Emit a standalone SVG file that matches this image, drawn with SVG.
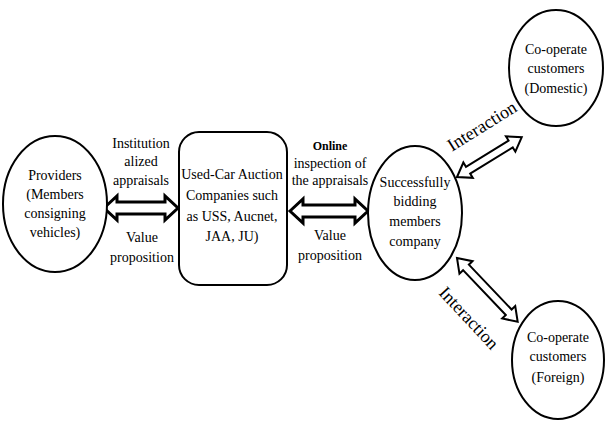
<svg xmlns="http://www.w3.org/2000/svg" width="605" height="421" viewBox="0 0 605 421">
<style>
.n{fill:#fff;stroke:#000;stroke-width:2}
.t{font-family:"Liberation Serif","Times New Roman",serif;font-size:14px;fill:#000;text-anchor:middle}
.a{fill:#fff;stroke:#000;stroke-width:3;stroke-linejoin:miter}
.d{fill:#fff;stroke:#000;stroke-width:2}
.b{font-weight:bold;font-size:12px}
.i{font-size:18px}
</style>
<rect width="605" height="421" fill="#fff"/>
<g id="connectors">
<polygon class="a" points="104,208 117,196 117,202 165,202 165,196 178,208 165,220 165,214 117,214 117,220"/>
<polygon class="a" points="290,211 303,199 303,205 355,205 355,199 368,211 355,223 355,217 303,217 303,223"/>
<polygon class="d" transform="translate(457,177) rotate(-31.6)" points="0,0 13,-9 13,-4 63,-4 63,-9 76,0 63,9 63,4 13,4 13,9"/>
<polygon class="d" transform="translate(457,258) rotate(46.4)" points="0,0 13,-9 13,-4 75,-4 75,-9 88,0 75,9 75,4 13,4 13,9"/>
<text class="t" x="141" y="148">Institution</text>
<text class="t" x="141" y="166">alized</text>
<text class="t" x="141" y="185">appraisals</text>
<text class="t" x="142" y="242">Value</text>
<text class="t" x="142" y="262">proposition</text>
<text class="t b" x="330" y="150">Online</text>
<text class="t" x="330" y="168">inspection of</text>
<text class="t" x="330" y="185">the appraisals</text>
<text class="t" x="330" y="240">Value</text>
<text class="t" x="330" y="260">proposition</text>
<text class="t i" transform="translate(482,126) rotate(-32)" x="0" y="6">Interaction</text>
<text class="t i" transform="translate(469,318) rotate(47)" x="0" y="6">Interaction</text>
</g>
<g id="providers">
<ellipse class="n" cx="55" cy="204" rx="52" ry="68"/>
<text class="t" x="55" y="180">Providers</text>
<text class="t" x="55" y="199">(Members</text>
<text class="t" x="55" y="218">consigning</text>
<text class="t" x="55" y="237">vehicles)</text>
</g>
<g id="auction">
<rect class="n" x="179" y="132" width="108" height="153" rx="20"/>
<text class="t" x="232" y="179">Used-Car Auction</text>
<text class="t" x="232" y="200">Companies such</text>
<text class="t" x="232" y="221">as USS, Aucnet,</text>
<text class="t" x="232" y="241">JAA, JU)</text>
</g>
<g id="bidding">
<ellipse class="n" cx="415" cy="213" rx="47" ry="67"/>
<text class="t" x="415" y="187">Successfully</text>
<text class="t" x="415" y="206">bidding</text>
<text class="t" x="415" y="226">members</text>
<text class="t" x="415" y="246">company</text>
</g>
<g id="domestic">
<ellipse class="n" cx="556" cy="68" rx="47" ry="58"/>
<text class="t" x="556" y="54">Co-operate</text>
<text class="t" x="556" y="73">customers</text>
<text class="t" x="556" y="93">(Domestic)</text>
</g>
<g id="foreign">
<ellipse class="n" cx="558" cy="360" rx="46" ry="59"/>
<text class="t" x="558" y="342">Co-operate</text>
<text class="t" x="558" y="361">customers</text>
<text class="t" x="558" y="382">(Foreign)</text>
</g>
</svg>
